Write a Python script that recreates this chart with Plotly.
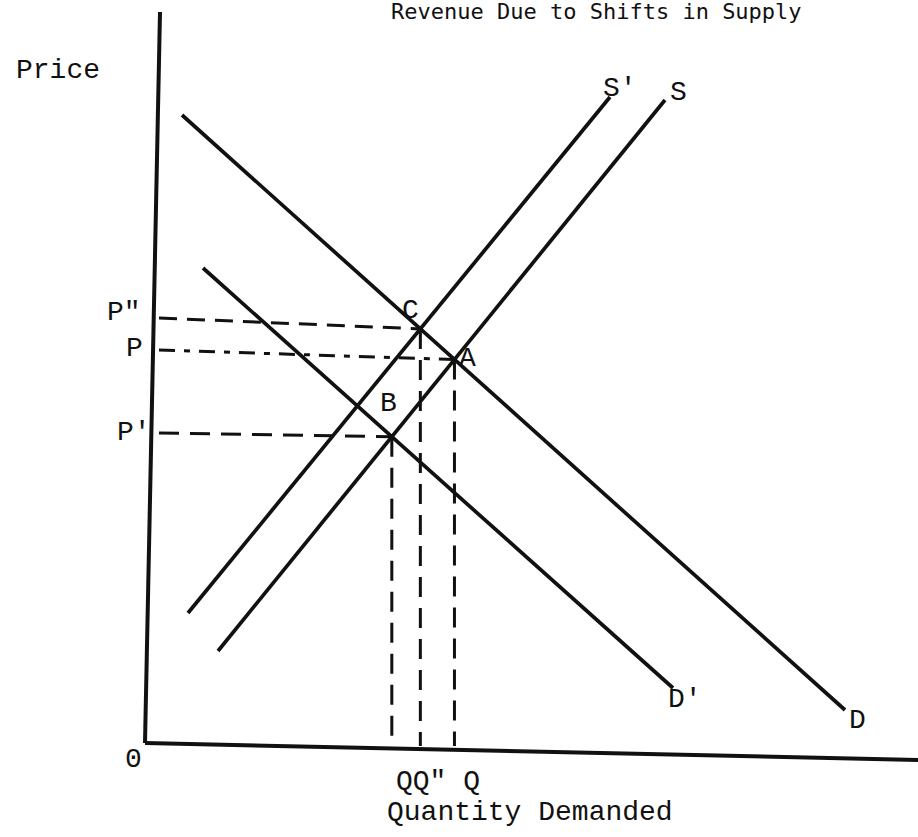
import plotly.graph_objects as go

# ---------------- data (quantity q, price p; origin O at the axes corner) ----------------
axis_y_q = [0, 15]          # vertical (Price) axis, as drawn in the scan
axis_y_p = [0, 731]
axis_x_q = [0, 773]         # horizontal (Quantity Demanded) axis
axis_x_p = [0, -17]

D_q = [37, 700]             # original demand D
D_p = [628, 33]
D1_q = [58, 528]            # shifted demand D'
D1_p = [475, 55]
S1_q = [43, 465]            # shifted supply S'
S1_p = [130, 646]
S_q = [73, 520]             # original supply S
S_p = [92, 643]

price_tick_labels = ['P"', 'P', "P'"]
price_guide_start_q = 14
price_guide_start_p = [425, 393, 310]
quantity_tick_label = 'QQ" Q'
axis_floor_p = -3

title_text = "Revenue Due to Shifts in Supply"
x_title = "Quantity Demanded"
y_title = "Price"

INK = "#111111"
MONO = "Liberation Mono, Courier New, monospace"


def intersect(q1, p1, q2, p2):
    """Intersection of two straight lines given by their two end points."""
    m1 = (p1[1] - p1[0]) / (q1[1] - q1[0])
    m2 = (p2[1] - p2[0]) / (q2[1] - q2[0])
    b1 = p1[0] - m1 * q1[0]
    b2 = p2[0] - m2 * q2[0]
    q = (b2 - b1) / (m1 - m2)
    return q, m1 * q + b1


C = intersect(S1_q, S1_p, D_q, D_p)     # S' with D
A = intersect(S_q, S_p, D_q, D_p)       # S with D
B = intersect(S1_q, S1_p, D1_q, D1_p)   # S' with D'
E = intersect(S_q, S_p, D1_q, D1_p)     # S with D'

fig = go.Figure()


def line(q, p, width=3.5, dash="solid"):
    fig.add_trace(go.Scatter(x=q, y=p, mode="lines", hoverinfo="skip",
                             line=dict(color=INK, width=width, dash=dash)))


# axes
line(axis_y_q, axis_y_p, width=4)
line(axis_x_q, axis_x_p, width=4)

# supply & demand curves
for q, p in [(D_q, D_p), (D1_q, D1_p), (S1_q, S1_p), (S_q, S_p)]:
    line(q, p, width=3.7)

# horizontal price guides
targets = [C, A, E]
dashes = ["18px,10px", "16px,9px,6px,9px", "20px,11px"]
for tgt, p0, d in zip(targets, price_guide_start_p, dashes):
    line([price_guide_start_q, tgt[0]], [p0, tgt[1]], width=3, dash=d)

# vertical quantity guides
for tgt in [E, C, A]:
    line([tgt[0], tgt[0]], [tgt[1], axis_floor_p], width=3, dash="20px,11px")

ann = []


def label(q, p, text, size=28, font=MONO, **kw):
    ann.append(dict(x=q, y=p, text=text, showarrow=False,
                    font=dict(family=font, size=size, color=INK), **kw))


label(-87, 673, y_title)
label(-21, 431, price_tick_labels[0])
label(-11, 395, price_tick_labels[1])
label(-11, 311, price_tick_labels[2])
label(265, 433, "C")
label(322, 385, "A")
label(243, 340, "B")
label(475, 655, "S'")
label(533, 651, "S")
label(540, 44, "D'")
label(712, 23, "D")
label(-12, -16, "0")
label(293, -38, quantity_tick_label)
label(385, -69, x_title)
label(451, 717, title_text, size=22, font="DejaVu Sans Mono, monospace", yanchor="bottom")

fig.update_layout(
    width=918, height=837, autosize=False,
    margin=dict(l=0, r=0, t=0, b=0),
    paper_bgcolor="white", plot_bgcolor="white",
    showlegend=False,
    xaxis=dict(range=[-145, 773], visible=False, fixedrange=True),
    yaxis=dict(range=[-94, 743], visible=False, fixedrange=True),
    annotations=ann,
)

fig.write_html("out.html", config={"displayModeBar": False},
               post_script="document.body.style.margin='0';")
